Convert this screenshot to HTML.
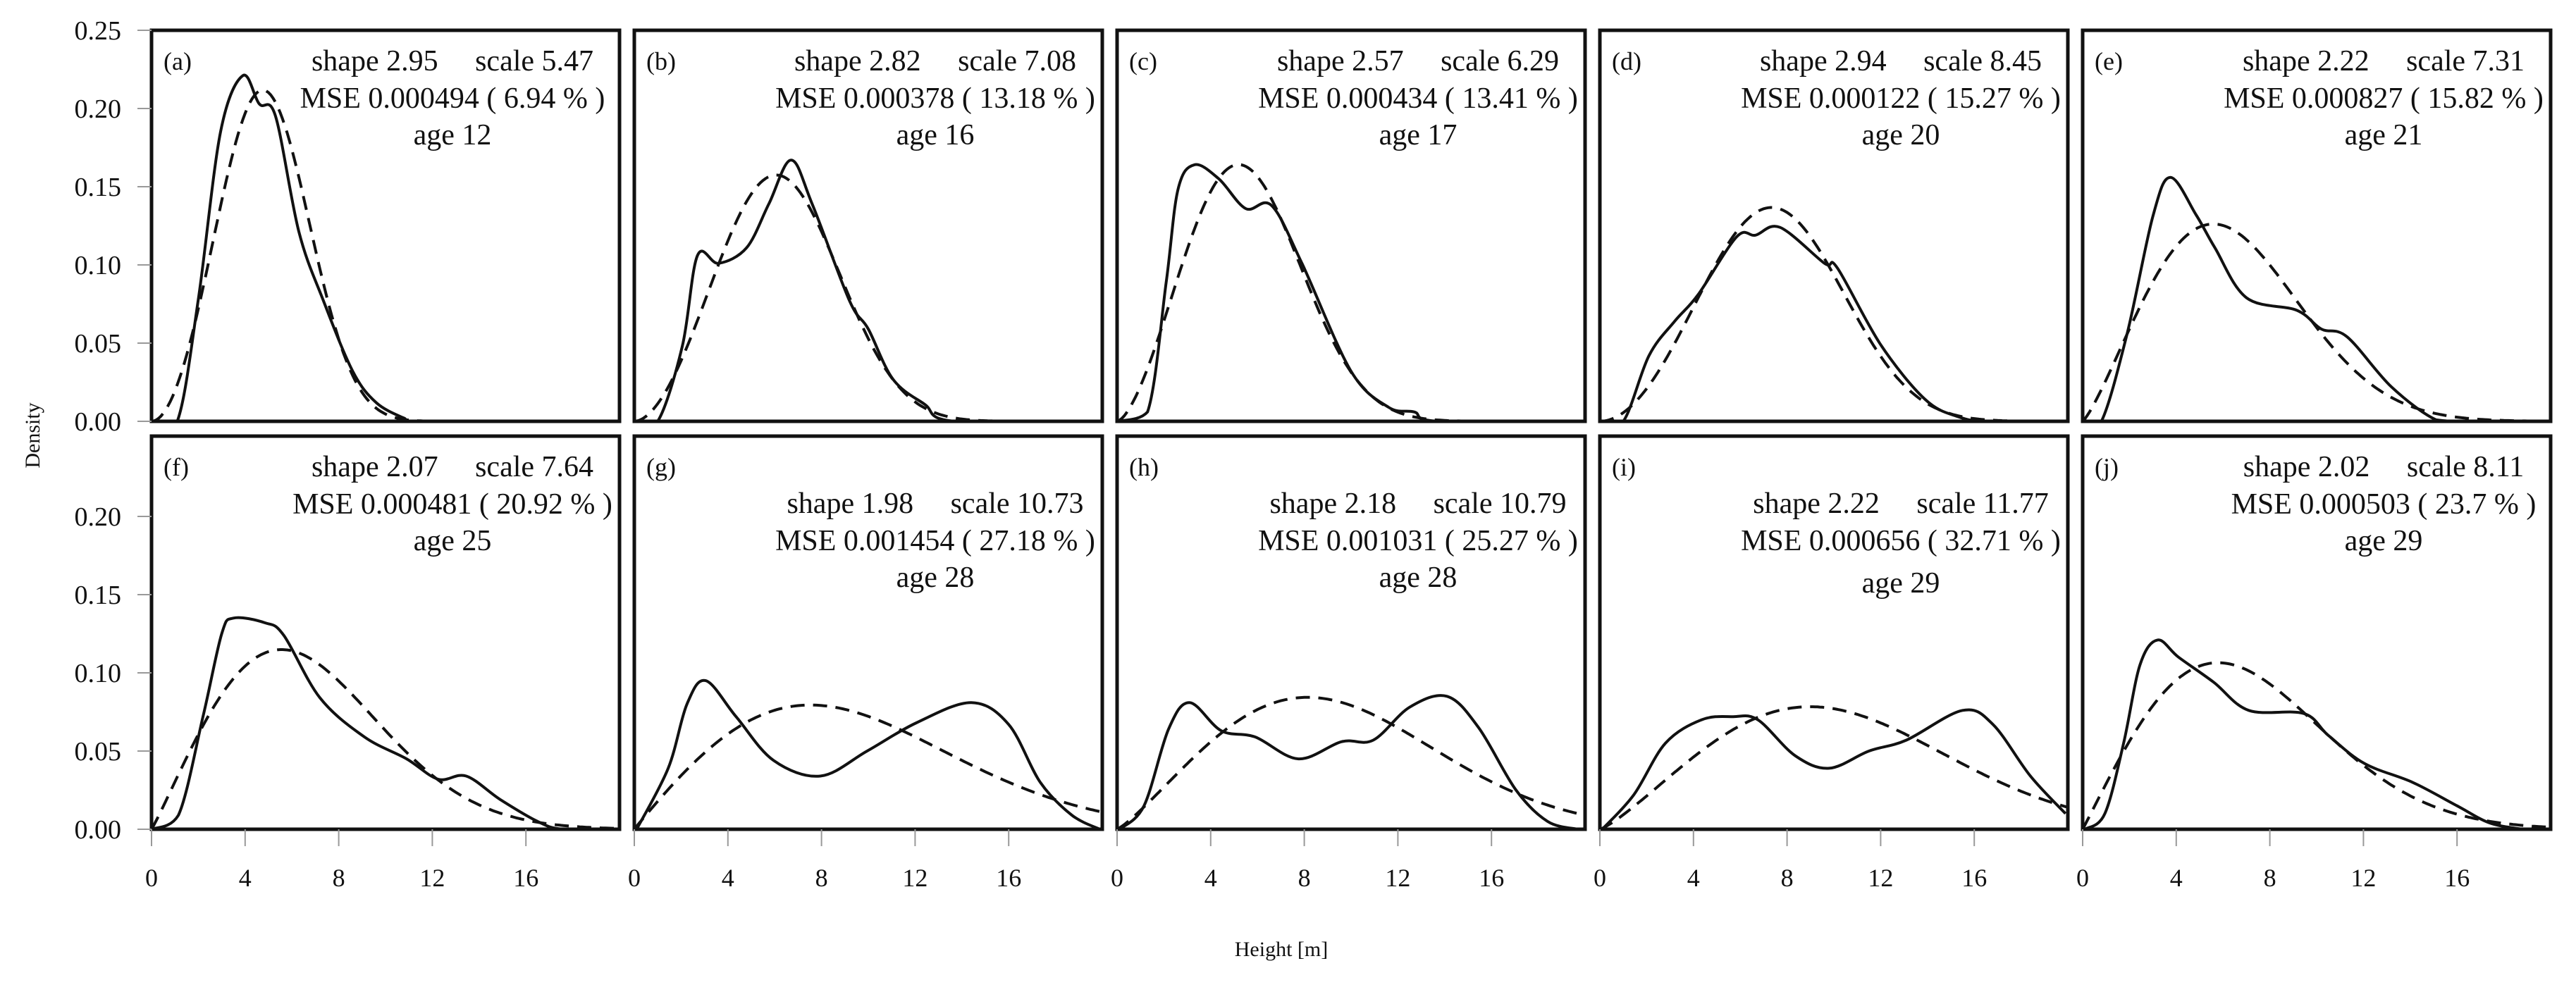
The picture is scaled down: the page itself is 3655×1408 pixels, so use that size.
<!DOCTYPE html>
<html><head><meta charset="utf-8"><style>
html,body{margin:0;padding:0;background:#fff;}
svg{display:block;}
text{font-family:"Liberation Serif",serif;fill:#111;}
</style></head><body>
<svg id="fig" width="3655" height="1408" viewBox="0 0 3655 1408" xmlns="http://www.w3.org/2000/svg"></svg>
<script>
// ---- data ----
const panelLabels = ["(a)","(b)","(c)","(d)","(e)","(f)","(g)","(h)","(i)","(j)"];
const shapes = [2.95,2.82,2.57,2.94,2.22,2.07,1.98,2.18,2.22,2.02];
const scales = [5.47,7.08,6.29,8.45,7.31,7.64,10.73,10.79,11.77,8.11];
const mseVals = ["0.000494","0.000378","0.000434","0.000122","0.000827","0.000481","0.001454","0.001031","0.000656","0.000503"];
const msePct = ["6.94","13.18","13.41","15.27","15.82","20.92","27.18","25.27","32.71","23.7"];
const ages = [12,16,17,20,21,25,28,28,29,29];
const yTicks = [0,0.05,0.10,0.15,0.20,0.25];
const yTickLabels = ["0.00","0.05","0.10","0.15","0.20","0.25"];
const xTicks = [0,4,8,12,16];
const xTickLabels = ["0","4","8","12","16"];
// observed density curves: heights (m) and densities
const obsX = [
 [0,1.1,2.0,2.95,3.9,4.6,5.3,6.3,7.35,8.6,9.6,10.8,11.4,20],
 [0,1.0,2.05,2.7,3.6,4.8,5.75,6.7,7.6,9.2,10.0,11.05,12.4,13.7,20],
 [0,1.3,2.1,2.6,3.3,4.35,5.5,6.6,7.9,10.0,11.6,12.7,13.75,20],
 [0,1.0,2.1,3.2,4.2,5.85,6.65,7.7,9.6,10.15,12.0,13.9,15.3,16.6,20],
 [0,0.8,1.9,3.0,3.75,4.85,5.65,7.0,9.15,10.2,11.3,13.2,15.1,16.4,20],
 [0,1.15,2.2,3.0,3.5,4.85,5.65,7.2,9.1,10.9,12.25,13.45,14.9,16.5,17.6,20],
 [0.1,1.45,2.25,3.05,4.35,5.95,7.95,9.95,12.05,14.4,16.0,17.35,18.7,19.9],
 [0.1,1.15,2.2,3.1,4.45,5.9,7.75,9.6,10.95,12.5,14.1,15.45,17.05,18.4,19.7],
 [0.1,1.45,2.8,4.35,5.7,6.75,8.35,9.8,11.5,13.1,15.5,16.8,18.4,19.9],
 [0.1,0.95,1.75,2.45,3.2,4.1,5.6,7.1,9.45,10.5,12.05,14.1,16.0,17.4,18.8]
];
const obsY = [
 [0,0,0.078,0.185,0.221,0.203,0.195,0.121,0.077,0.032,0.012,0.002,0,0],
 [0,0,0.048,0.106,0.101,0.111,0.139,0.167,0.139,0.077,0.059,0.027,0.011,0,0],
 [0,0.006,0.089,0.148,0.164,0.155,0.136,0.138,0.101,0.032,0.009,0.006,0,0],
 [0,0,0.042,0.064,0.081,0.118,0.119,0.124,0.101,0.098,0.049,0.014,0.003,0,0],
 [0,0,0.056,0.131,0.156,0.132,0.111,0.079,0.071,0.059,0.054,0.022,0.001,0,0],
 [0,0.009,0.072,0.125,0.135,0.132,0.124,0.084,0.059,0.045,0.032,0.034,0.019,0.005,0,0],
 [0,0.039,0.080,0.095,0.072,0.044,0.034,0.050,0.068,0.081,0.067,0.030,0.009,0],
 [0,0.015,0.064,0.081,0.063,0.059,0.045,0.056,0.057,0.078,0.085,0.065,0.025,0.005,0],
 [0,0.022,0.055,0.070,0.072,0.070,0.047,0.039,0.050,0.057,0.076,0.067,0.034,0.010],
 [0,0.010,0.055,0.105,0.121,0.110,0.094,0.076,0.074,0.060,0.042,0.030,0.015,0.004,0]
];
// ---- layout ----
const NS="http://www.w3.org/2000/svg";
const svg=document.getElementById('fig');
const lefts=[215,900,1585,2270,2955];
const PW=664, rowTop=[43,619], rowBot=[598,1177];
const XMAX=20, YMAX=0.25;
function mk(tag,attrs,parent){const e=document.createElementNS(NS,tag);for(const k in attrs)e.setAttribute(k,attrs[k]);(parent||svg).appendChild(e);return e;}
let rowBotCur=0;
function smooth(pts){
  let d="M"+pts[0][0].toFixed(1)+","+pts[0][1].toFixed(1);
  for(let i=0;i<pts.length-1;i++){
    const p0=pts[Math.max(0,i-1)],p1=pts[i],p2=pts[i+1],p3=pts[Math.min(pts.length-1,i+2)];
    const t=1/6;
    let c1=[p1[0]+(p2[0]-p0[0])*t,p1[1]+(p2[1]-p0[1])*t];
    let c2=[p2[0]-(p3[0]-p1[0])*t,p2[1]-(p3[1]-p1[1])*t];
    c1[1]=Math.min(c1[1],rowBotCur);c2[1]=Math.min(c2[1],rowBotCur);
    d+=" C"+c1[0].toFixed(1)+","+c1[1].toFixed(1)+" "+c2[0].toFixed(1)+","+c2[1].toFixed(1)+" "+p2[0].toFixed(1)+","+p2[1].toFixed(1);
  }
  return d;
}
function weib(x,k,l){if(x<=0)return 0;return (k/l)*Math.pow(x/l,k-1)*Math.exp(-Math.pow(x/l,k));}

for(let p=0;p<10;p++){
  const r=Math.floor(p/5), c=p%5;
  const L=lefts[c], T=rowTop[r], B=rowBot[r];
  rowBotCur=B;
  const xs=v=>L+v/XMAX*PW;
  const ys=v=>B-v/YMAX*(rowBot[0]-rowTop[0]);
  const g=mk('g',{});
  
  
  const cid='clip'+p;
  const cp=mk('clipPath',{id:cid},g);mk('rect',{x:L,y:T,width:PW,height:B-T},cp);
  let wpts=[];for(let i=0;i<=200;i++){const x=i*XMAX/200;wpts.push(xs(x).toFixed(1)+","+ys(weib(x,shapes[p],scales[p])).toFixed(1));}
  const wl=mk('polyline',{points:wpts.join(' '),fill:'none',stroke:'#111','stroke-width':4,'stroke-dasharray':'20 12','clip-path':'url(#'+cid+')'},g);
  
  
  const pts=obsX[p].map((x,i)=>[xs(x),ys(obsY[p][i])]);
  const ol=mk('path',{d:smooth(pts),fill:'none',stroke:'#111','stroke-width':4,'clip-path':'url(#'+cid+')'},g);
  
  
  const bx=mk('rect',{x:L,y:T,width:PW,height:B-T,fill:'none',stroke:'#111','stroke-width':5},g);
  
  
  const pl=mk('text',{x:L+17,y:T+56,'font-size':36},g);pl.textContent=panelLabels[p];
  
  
  const off=(r===1&&c>=1&&c<=3)?52:0;
  const cx=L+427;
  const t1=mk('text',{x:cx,y:T+57+off,'font-size':42,'text-anchor':'middle'},g);
  t1.textContent="shape "+shapes[p].toFixed(2)+"\u00a0\u00a0\u00a0\u00a0\u00a0scale "+scales[p].toFixed(2);
  
  
  const t2=mk('text',{x:cx,y:T+110+off,'font-size':42,'text-anchor':'middle'},g);t2.textContent="MSE "+mseVals[p]+" ( "+msePct[p]+" % )";
  
  
  const t3=mk('text',{x:cx,y:T+162+off+(p===8?8:0),'font-size':42,'text-anchor':'middle'},g);t3.textContent="age "+ages[p];
  
  
  if(c===0){
    yTicks.forEach((v,i)=>{
      if(r===1&&v>0.24)return;
      const y=ys(v);
      mk('line',{x1:195,x2:L,y1:y,y2:y,stroke:'#999','stroke-width':2},g);
      const tl=mk('text',{x:172,y:y+13,'font-size':38,'text-anchor':'end'},g);tl.textContent=yTickLabels[i];
      
      
    });
  }
  if(r===1){
    xTicks.forEach((v,i)=>{
      const x=xs(v);
      mk('line',{x1:x,x2:x,y1:B,y2:B+24,stroke:'#999','stroke-width':2},g);
      const tl=mk('text',{x:x,y:1258,'font-size':36,'text-anchor':'middle'},g);tl.textContent=xTickLabels[i];
      
      
    });
  }
}
const yl=mk('text',{x:0,y:0,'font-size':30,'text-anchor':'middle',transform:'translate(56,618) rotate(-90)'});yl.textContent="Density";


const xl=mk('text',{x:1818,y:1357,'font-size':30,'text-anchor':'middle'});xl.textContent="Height [m]";


</script>
</body></html>
